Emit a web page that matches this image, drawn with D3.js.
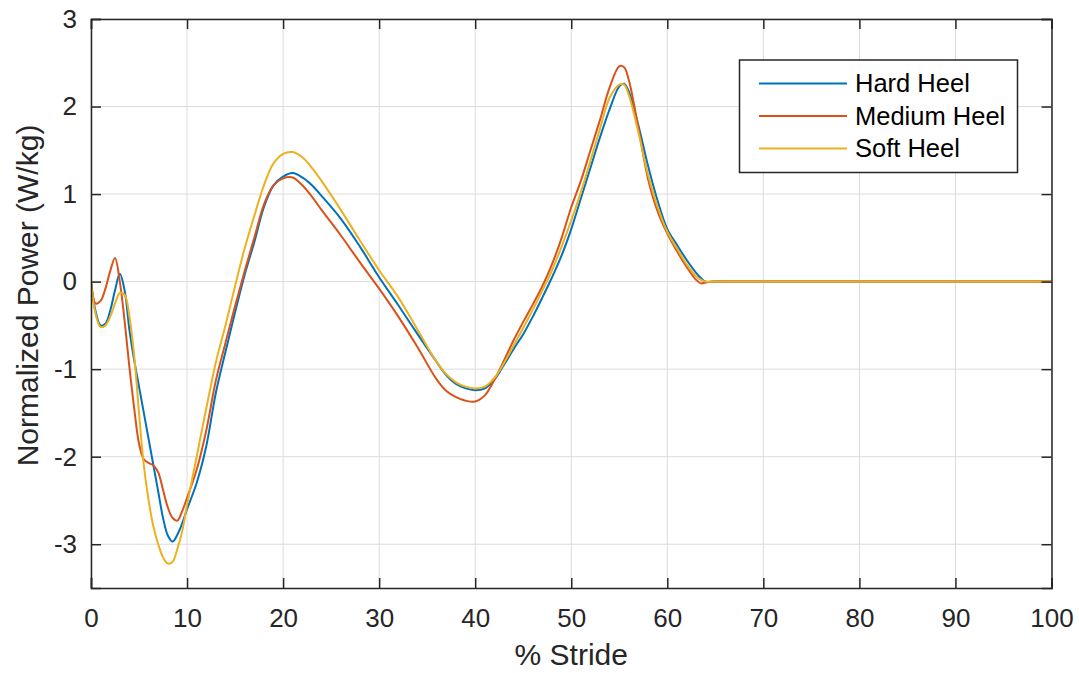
<!DOCTYPE html>
<html>
<head>
<meta charset="utf-8">
<script src="https://cdn.jsdelivr.net/npm/d3@7"></script>
<style>
  html, body { margin: 0; padding: 0; background: #ffffff; }
  svg { display: block; font-family: "Liberation Sans", Arial, Helvetica, sans-serif; }
</style>
</head>
<body>
<svg id="chart" width="1079" height="673"></svg>
<script>
// % stride sample positions shared by all three series
const stride = [0, 0.5, 1, 1.5, 2, 2.5, 3, 3.5, 4, 4.5, 5, 5.5, 6, 6.5, 7, 7.5, 8, 8.5, 9, 9.5,
  10, 11, 12, 13, 14, 15, 16, 17, 18, 19, 20, 21, 22, 23, 24, 26, 28, 30, 32, 34, 36, 37, 38,
  39, 40, 41, 42, 43, 44, 45, 46, 47, 48, 49, 50, 51, 52, 53, 54, 55, 55.5, 56, 57, 58, 59,
  60, 61, 62, 63, 63.5, 64, 65, 70, 80, 90, 100];

// Normalized power (W/kg) per heel condition
const hardHeel = [0, -0.35, -0.5, -0.48, -0.33, -0.1, 0.09, -0.1, -0.55, -0.9, -1.2, -1.5, -1.8, -2.1, -2.4, -2.7, -2.9, -2.97, -2.89, -2.76,
  -2.6, -2.3, -1.88, -1.27, -0.8, -0.35, 0.08, 0.45, 0.85, 1.1, 1.2, 1.24, 1.19, 1.1, 0.98, 0.72, 0.4, 0.05, -0.27, -0.6, -0.92, -1.07, -1.17,
  -1.22, -1.24, -1.22, -1.12, -0.95, -0.77, -0.6, -0.4, -0.18, 0.05, 0.3, 0.6, 0.95, 1.3, 1.65, 1.97, 2.23, 2.26, 2.17, 1.78, 1.32, 0.92,
  0.6, 0.42, 0.25, 0.1, 0.04, 0, 0, 0, 0, 0, 0];

const mediumHeel = [0, -0.25, -0.22, -0.08, 0.12, 0.27, 0.0, -0.45, -0.98, -1.45, -1.85, -2.03, -2.07, -2.1, -2.18, -2.38, -2.58, -2.7, -2.73, -2.62,
  -2.47, -2.15, -1.7, -1.13, -0.7, -0.28, 0.12, 0.5, 0.88, 1.1, 1.18, 1.19, 1.1, 0.97, 0.82, 0.53, 0.22, -0.08, -0.4, -0.75, -1.12, -1.25, -1.32,
  -1.36, -1.37, -1.3, -1.12, -0.9, -0.67, -0.46, -0.26, -0.05, 0.2, 0.5, 0.85, 1.15, 1.5, 1.85, 2.22, 2.46, 2.45, 2.3, 1.75, 1.17, 0.8,
  0.55, 0.35, 0.17, 0.02, -0.02, -0.01, 0, 0, 0, 0, 0];

const softHeel = [0, -0.38, -0.52, -0.5, -0.4, -0.25, -0.13, -0.15, -0.4, -0.85, -1.5, -2.1, -2.5, -2.8, -3.0, -3.15, -3.22, -3.2, -3.05, -2.85,
  -2.55, -2.0, -1.45, -0.92, -0.5, -0.05, 0.38, 0.75, 1.1, 1.35, 1.46, 1.48, 1.42, 1.3, 1.15, 0.82, 0.47, 0.13, -0.18, -0.55, -0.92, -1.06, -1.15,
  -1.2, -1.22, -1.2, -1.1, -0.93, -0.73, -0.53, -0.32, -0.1, 0.13, 0.4, 0.7, 1.02, 1.38, 1.75, 2.1, 2.25, 2.25, 2.13, 1.7, 1.22, 0.85,
  0.57, 0.38, 0.2, 0.06, 0.02, 0, 0, 0, 0, 0, 0];

const seriesNames = ["Hard Heel", "Medium Heel", "Soft Heel"];
const seriesColors = ["#0072BD", "#D95319", "#EDB120"];
const xTicks = [0, 10, 20, 30, 40, 50, 60, 70, 80, 90, 100];
const yTicks = [-3, -2, -1, 0, 1, 2, 3];
const xLabel = "% Stride";
const yLabel = "Normalized Power (W/kg)";

const series = [hardHeel, mediumHeel, softHeel].map((vals, i) => ({
  name: seriesNames[i],
  color: seriesColors[i],
  points: stride.map((s, j) => [s, vals[j]])
}));

const svg = d3.select("#chart");
const plot = { left: 91, right: 1051.5, top: 19, bottom: 588 };
const axisColor = "#262626";

const x = d3.scaleLinear().domain([0, 100]).range([plot.left, plot.right]);
const y = d3.scaleLinear().domain([-3.5, 3]).range([plot.bottom, plot.top]);

// grid lines
const grid = svg.append("g");
grid.selectAll("line.gx").data(xTicks).join("line")
  .attr("x1", d => x(d)).attr("x2", d => x(d))
  .attr("y1", plot.top).attr("y2", plot.bottom)
  .attr("stroke", "#dcdcdc").attr("stroke-width", 1);
grid.selectAll("line.gy").data(yTicks).join("line")
  .attr("y1", d => y(d)).attr("y2", d => y(d))
  .attr("x1", plot.left).attr("x2", plot.right)
  .attr("stroke", "#dcdcdc").attr("stroke-width", 1);

// curves
const line = d3.line()
  .x(d => x(d[0])).y(d => y(d[1]))
  .curve(d3.curveCatmullRom.alpha(0.5));

svg.append("clipPath").attr("id", "plotclip")
  .append("rect").attr("x", plot.left).attr("y", plot.top)
  .attr("width", plot.right - plot.left).attr("height", plot.bottom - plot.top);

svg.append("g").attr("clip-path", "url(#plotclip)")
  .selectAll("path").data(series).join("path")
  .attr("d", d => line(d.points))
  .attr("fill", "none")
  .attr("stroke", d => d.color)
  .attr("stroke-width", 2)
  .attr("stroke-linejoin", "round");

// axes with inward ticks on all four sides
const tickLen = 10;
const fontSize = 26;
const fontFamily = "'Liberation Sans', Arial, sans-serif";

const bottomAxis = d3.axisBottom(x).tickValues(xTicks).tickSize(-tickLen).tickPadding(21).tickFormat(d3.format("d"));
const topAxis = d3.axisTop(x).tickValues(xTicks).tickSize(-tickLen).tickFormat("");
const leftAxis = d3.axisLeft(y).tickValues(yTicks).tickSize(-tickLen).tickPadding(14).tickFormat(d => d < 0 ? "-" + Math.abs(d) : String(d));
const rightAxis = d3.axisRight(y).tickValues(yTicks).tickSize(-tickLen).tickFormat("");

function styleAxis(g) {
  g.select(".domain").attr("stroke", axisColor).attr("stroke-width", 1.5);
  g.selectAll(".tick line").attr("stroke", axisColor).attr("stroke-width", 1.5);
  g.selectAll(".tick text").attr("fill", axisColor).attr("font-size", fontSize)
    .attr("font-family", fontFamily);
}

svg.append("g").attr("transform", `translate(0,${plot.bottom})`).call(bottomAxis).call(styleAxis);
svg.append("g").attr("transform", `translate(0,${plot.top})`).call(topAxis).call(styleAxis);
svg.append("g").attr("transform", `translate(${plot.left},0)`).call(leftAxis).call(styleAxis);
svg.append("g").attr("transform", `translate(${plot.right},0)`).call(rightAxis).call(styleAxis);

// axis titles
svg.append("text")
  .attr("x", (plot.left + plot.right) / 2).attr("y", 665)
  .attr("text-anchor", "middle").attr("fill", axisColor)
  .attr("font-size", 30).text(xLabel);

svg.append("text")
  .attr("transform", `translate(38,${(plot.top + plot.bottom) / 2 - 8}) rotate(-90)`)
  .attr("text-anchor", "middle").attr("fill", axisColor)
  .attr("font-size", 30).text(yLabel);

// legend
const legend = svg.append("g");
legend.append("rect")
  .attr("x", 739.5).attr("y", 60).attr("width", 278).attr("height", 112.5)
  .attr("fill", "#ffffff").attr("stroke", axisColor).attr("stroke-width", 1.5);
const rowY = [83.5, 116, 148.5];
series.forEach((s, i) => {
  legend.append("line")
    .attr("x1", 759).attr("x2", 847).attr("y1", rowY[i]).attr("y2", rowY[i])
    .attr("stroke", s.color).attr("stroke-width", 2);
  legend.append("text")
    .attr("x", 855).attr("y", rowY[i]).attr("dy", "0.35em")
    .attr("fill", "#000000").attr("font-size", 25.5).text(s.name);
});
</script>
</body>
</html>
